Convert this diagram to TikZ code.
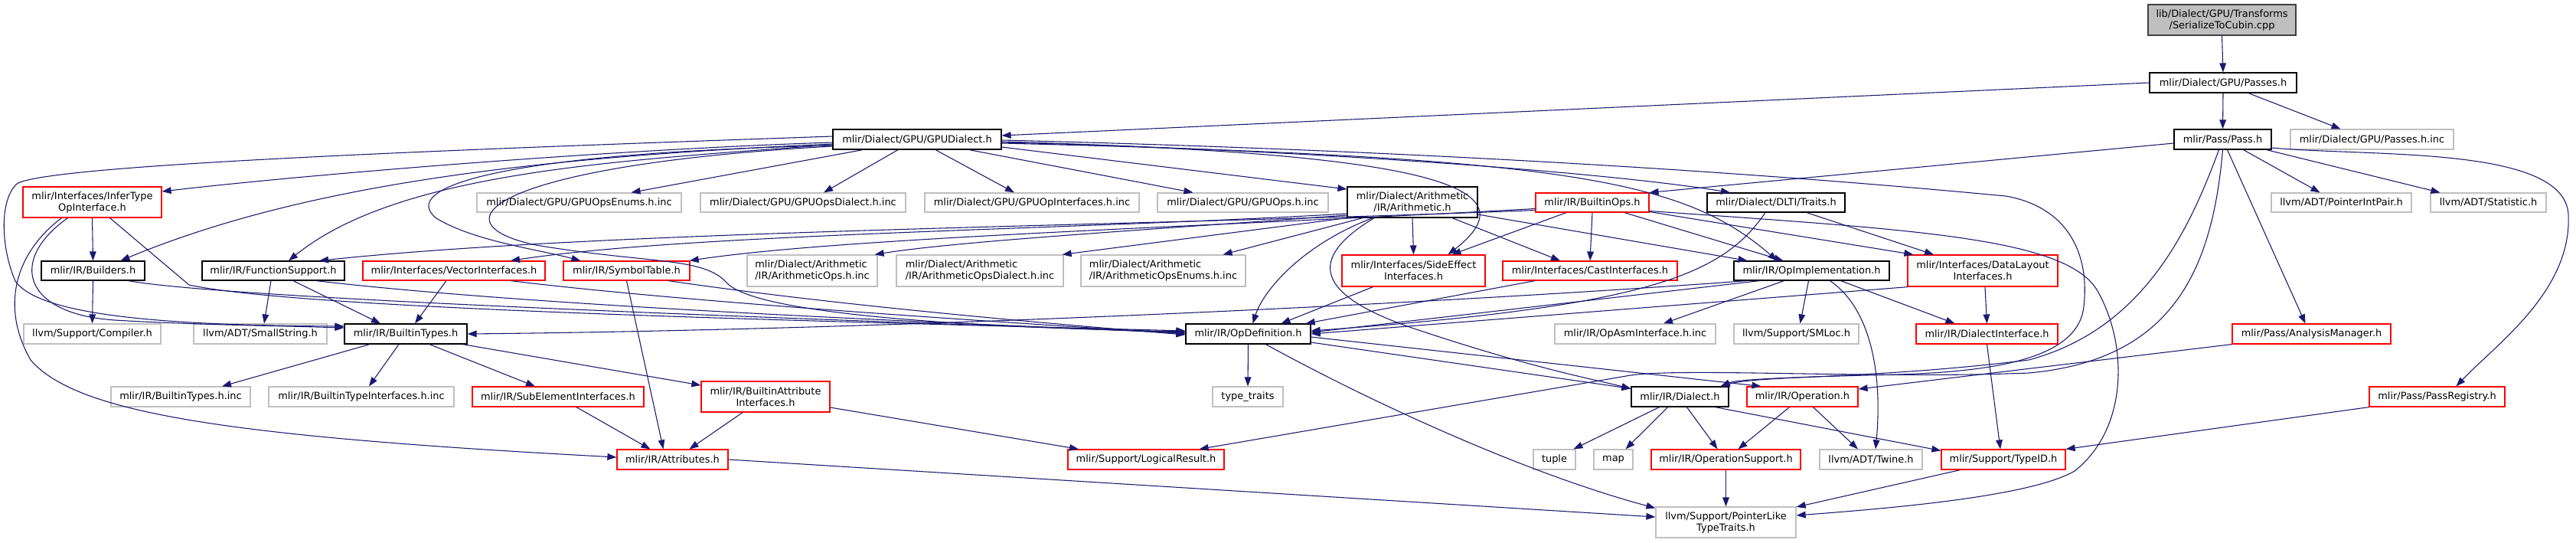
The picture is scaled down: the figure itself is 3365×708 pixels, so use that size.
\documentclass[tikz,border=0pt]{standalone}
\usepackage{fontspec}
\setmainfont{DejaVu Sans}
\usetikzlibrary{arrows.meta,calc}
\definecolor{edgeblue}{RGB}{25,25,112}
\definecolor{grayb}{RGB}{191,191,191}
\definecolor{topfill}{RGB}{191,191,191}
\definecolor{topdraw}{RGB}{64,64,64}
\newcommand{\nd}[7]{\node[#1, minimum width={(#4-#3)*0.75pt}, minimum height={(#6-#5)*0.75pt}] (#2) at ({(#3+#4)/2},{(#5+#6)/2}) {#7};}
\begin{document}
\begin{tikzpicture}[x=0.75pt,y=-0.75pt,
  nb/.style={rectangle, inner sep=0pt, line width=0.9pt, font=\fontsize{9.7}{11.25}\selectfont, align=center, text=black},
  blk/.style={nb, draw=black},
  rdn/.style={nb, draw=red},
  gry/.style={nb, draw=grayb},
  topn/.style={nb, draw=topdraw, fill=topfill},
  ed/.style={draw=edgeblue, line width=0.8pt, -{Triangle[length=9pt,width=6.5pt]}}]
\fill[white] (0,0) rectangle (3365,708);
\useasboundingbox (0,0) rectangle (3365,708);
% nodes
\nd{topn}{ser}{2806}{2999}{6}{46}{lib/Dialect/GPU/Transforms\\/SerializeToCubin.cpp}
\nd{blk}{passes}{2808}{3000}{95}{121}{mlir/Dialect/GPU/Passes.h}
\nd{blk}{gpud}{1088}{1308}{169}{195}{mlir/Dialect/GPU/GPUDialect.h}
\nd{blk}{pass}{2840}{2967}{169}{195}{mlir/Pass/Pass.h}
\nd{gry}{passesinc}{2992}{3205}{169}{195}{mlir/Dialect/GPU/Passes.h.inc}
\nd{rdn}{infer}{30}{211}{244}{284}{mlir/Interfaces/InferType\\OpInterface.h}
\nd{gry}{opsenums}{623}{890}{252}{277}{mlir/Dialect/GPU/GPUOpsEnums.h.inc}
\nd{gry}{opsdialect}{915}{1183}{252}{277}{mlir/Dialect/GPU/GPUOpsDialect.h.inc}
\nd{gry}{opinterfaces}{1208}{1488}{252}{277}{mlir/Dialect/GPU/GPUOpInterfaces.h.inc}
\nd{gry}{gpuops}{1512}{1735}{252}{277}{mlir/Dialect/GPU/GPUOps.h.inc}
\nd{blk}{arith}{1760}{1930}{244}{284}{mlir/Dialect/Arithmetic\\/IR/Arithmetic.h}
\nd{rdn}{builtinops}{2006}{2154}{252}{277}{mlir/IR/BuiltinOps.h}
\nd{blk}{traits}{2230}{2410}{252}{277}{mlir/Dialect/DLTI/Traits.h}
\nd{gry}{ptrintpair}{2967}{3150}{252}{277}{llvm/ADT/PointerIntPair.h}
\nd{gry}{statistic}{3175}{3326}{252}{277}{llvm/ADT/Statistic.h}
\nd{blk}{builders}{54}{189}{341}{366}{mlir/IR/Builders.h}
\nd{blk}{funcsupp}{264}{450}{341}{366}{mlir/IR/FunctionSupport.h}
\nd{rdn}{vector}{474}{712}{341}{366}{mlir/Interfaces/VectorInterfaces.h}
\nd{rdn}{symtab}{736}{901}{341}{366}{mlir/IR/SymbolTable.h}
\nd{gry,align=left}{arithops}{976}{1146}{333}{374}{mlir/Dialect/Arithmetic\\/IR/ArithmeticOps.h.inc}
\nd{gry,align=left}{arithdialect}{1171}{1389}{333}{374}{mlir/Dialect/Arithmetic\\/IR/ArithmeticOpsDialect.h.inc}
\nd{gry,align=left}{arithenums}{1412}{1627}{333}{374}{mlir/Dialect/Arithmetic\\/IR/ArithmeticOpsEnums.h.inc}
\nd{rdn}{sideeffect}{1753}{1940}{333}{374}{mlir/Interfaces/SideEffect\\Interfaces.h}
\nd{rdn}{cast}{1963}{2191}{341}{366}{mlir/Interfaces/CastInterfaces.h}
\nd{blk}{opimpl}{2265}{2468}{341}{366}{mlir/IR/OpImplementation.h}
\nd{rdn}{datalayout}{2492}{2688}{333}{374}{mlir/Interfaces/DataLayout\\Interfaces.h}
\nd{gry}{compiler}{31}{210}{423}{449}{llvm/Support/Compiler.h}
\nd{gry}{smallstring}{253}{427}{423}{449}{llvm/ADT/SmallString.h}
\nd{blk}{btypes}{450}{610}{423}{449}{mlir/IR/BuiltinTypes.h}
\nd{blk}{opdef}{1549}{1712}{423}{449}{mlir/IR/OpDefinition.h}
\nd{gry}{opasm}{2031}{2241}{423}{449}{mlir/IR/OpAsmInterface.h.inc}
\nd{gry}{smloc}{2265}{2428}{423}{449}{llvm/Support/SMLoc.h}
\nd{rdn}{dialectif}{2503}{2688}{423}{449}{mlir/IR/DialectInterface.h}
\nd{rdn}{analysis}{2916}{3123}{423}{449}{mlir/Pass/AnalysisManager.h}
\nd{gry}{btinc}{145}{327}{505}{531}{mlir/IR/BuiltinTypes.h.inc}
\nd{gry}{btiinc}{351}{593}{505}{531}{mlir/IR/BuiltinTypeInterfaces.h.inc}
\nd{rdn}{subelem}{617}{841}{505}{531}{mlir/IR/SubElementInterfaces.h}
\nd{rdn}{battr}{916}{1084}{498}{538}{mlir/IR/BuiltinAttribute\\Interfaces.h}
\nd{gry}{typetraits}{1584}{1676}{505}{531}{type\_traits}
\nd{blk}{dialect}{2131}{2258}{505}{531}{mlir/IR/Dialect.h}
\nd{rdn}{operation}{2282}{2427}{505}{531}{mlir/IR/Operation.h}
\nd{rdn}{passreg}{3095}{3272}{505}{531}{mlir/Pass/PassRegistry.h}
\nd{rdn}{attrs}{806}{951}{587}{613}{mlir/IR/Attributes.h}
\nd{rdn}{logres}{1395}{1599}{587}{613}{mlir/Support/LogicalResult.h}
\nd{gry}{tuple}{2003}{2058}{587}{613}{tuple}
\nd{gry}{map}{2082}{2133}{587}{613}{map}
\nd{rdn}{opsupp}{2157}{2352}{587}{613}{mlir/IR/OperationSupport.h}
\nd{gry}{twine}{2377}{2511}{587}{613}{llvm/ADT/Twine.h}
\nd{rdn}{typeid}{2536}{2698}{587}{613}{mlir/Support/TypeID.h}
\nd{gry}{ptrlike}{2163}{2346}{662}{702}{llvm/Support/PointerLike\\TypeTraits.h}
% edges: top
\draw[ed] (ser.south) -- (passes.north);
\draw[ed] (passes.west) -- ($(gpud.east)+(0,-5)$);
\draw[ed] (passes.south) -- (pass.north);
\draw[ed] ($(passes.south)+(33,0)$) -- ($(passesinc.north)+(-41,0)$);
% GPUDialect
\draw[ed] ($(gpud.south)+(-71,0)$) -- ($(opsenums.north)+(68,0)$);
\draw[ed] ($(gpud.south)+(-25,0)$) -- ($(opsdialect.north)+(27,0)$);
\draw[ed] ($(gpud.south)+(24,0)$) -- ($(opinterfaces.north)+(-23,0)$);
\draw[ed] ($(gpud.south)+(68,0)$) -- ($(gpuops.north)+(-65,0)$);
\draw[ed] ($(gpud.east)+(0,10)$) -- ($(arith.west)+(0,-17)$);
\draw[ed] ($(gpud.east)+(0,4)$) .. controls (1700,195) and (2100,225) .. ($(traits.north)+(-60,0)$);
\draw[ed] ($(gpud.east)+(0,5)$) .. controls (2050,205) and (2200,235) .. ($(opimpl.north)+(-45,0)$);
\draw[ed] ($(gpud.east)+(0,3)$) .. controls (1850,200) and (2010,240) .. ($(sideeffect.north)+(45,0)$);
\draw[ed] ($(gpud.east)+(0,1)$) .. controls (2000,200) and (2450,240) .. (2620,256) .. controls (2700,270) and (2730,330) .. (2722,400) .. controls (2715,470) and (2600,485) .. (2480,489) .. controls (2350,492) and (2270,495) .. ($(dialect.north east)+(-11,0)$);
\draw[ed] ($(gpud.west)+(0,4)$) .. controls (800,195) and (400,228) .. ($(infer.east)+(0,-14)$);
\draw[ed] ($(gpud.west)+(0,-4)$) .. controls (600,195) and (60,215) .. (22,240) .. controls (0,260) and (0,320) .. (20,367) .. controls (50,410) and (200,425) .. ($(btypes.west)+(0,-10)$);
\draw[ed] ($(gpud.west)+(0,6)$) .. controls (700,205) and (400,240) .. ($(builders.north)+(36,0)$);
\draw[ed] ($(gpud.west)+(0,7)$) .. controls (800,210) and (520,225) .. ($(funcsupp.north)+(20,0)$);
\draw[ed] ($(gpud.west)+(0,8)$) .. controls (650,200) and (520,245) .. (570,285) .. controls (620,315) and (700,325) .. ($(symtab.north)+(-60,0)$);
\draw[ed] ($(gpud.west)+(0,9)$) .. controls (650,215) and (560,290) .. (700,320) .. controls (850,345) and (920,335) .. (950,370) .. controls (1000,420) and (1400,430) .. ($(opdef.west)+(0,-3)$);
% Arithmetic
\draw[ed] ($(arith.west)+(0,15)$) .. controls (1400,300) and (900,305) .. ($(vector.north)+(74,0)$);
\draw[ed] ($(arith.west)+(0,17)$) .. controls (1500,300) and (1250,315) .. ($(arithops.north east)+(-4,0)$);
\draw[ed] (arith.south west) -- ($(arithdialect.north east)+(-2,0)$);
\draw[ed] ($(arith.south)+(-65,0)$) -- ($(arithenums.north)+(78,0)$);
\draw[ed] ($(arith.south)+(-52,0)$) .. controls (1700,320) and (1650,380) .. ($(opdef.north)+(6,0)$);
\draw[ed] ($(arith.south)+(-50,0)$) .. controls (1720,330) and (1700,380) .. (1850,430) .. controls (2000,480) and (2080,495) .. ($(dialect.north west)+(0,3)$);
\draw[ed] (arith.south) -- (sideeffect.north);
\draw[ed] ($(arith.south)+(52,0)$) -- ($(cast.north)+(-39,0)$);
\draw[ed] ($(arith.east)+(0,16)$) -- ($(opimpl.north)+(-84,0)$);
% BuiltinOps
\draw[ed] ($(builtinops.west)+(0,10)$) .. controls (1500,295) and (800,300) .. ($(funcsupp.north)+(60,0)$);
\draw[ed] ($(builtinops.west)+(0,8)$) .. controls (1600,295) and (1100,310) .. ($(symtab.north east)+(-1,0)$);
\draw[ed] ($(builtinops.south)+(-34,0)$) -- ($(sideeffect.north)+(50,0)$);
\draw[ed] (builtinops.south) -- (cast.north);
\draw[ed] ($(builtinops.south)+(42,0)$) -- ($(opimpl.north)+(-37,0)$);
\draw[ed] ($(builtinops.east)+(0,12)$) -- ($(datalayout.north west)+(8,0)$);
\draw[ed] ($(builtinops.east)+(0,11)$) .. controls (2500,300) and (2700,310) .. (2740,380) .. controls (2780,450) and (2780,560) .. (2710,615) .. controls (2650,650) and (2450,665) .. ($(ptrlike.east)+(0,-9)$);
% Pass
\draw[ed] ($(pass.west)+(0,5)$) -- (builtinops.north east);
\draw[ed] ($(pass.south)+(-5,0)$) .. controls (2860,300) and (2800,430) .. (2650,470) .. controls (2450,495) and (2300,490) .. ($(dialect.north east)+(-11,0)$);
\draw[ed] (pass.south) .. controls (2890,350) and (2840,470) .. (2650,487) .. controls (2450,495) and (2200,480) .. (2130,490) -- ($(logres.north east)+(-33,0)$);
\draw[ed] ($(pass.south)+(6,0)$) -- ($(analysis.north)+(-8,0)$);
\draw[ed] ($(pass.south)+(27,0)$) -- ($(ptrintpair.north)+(-28,0)$);
\draw[ed] ($(pass.south east)+(-7,0)$) -- ($(statistic.north)+(-63,0)$);
\draw[ed] ($(pass.east)+(0,11)$) .. controls (3100,205) and (3350,190) .. (3355,280) .. controls (3360,380) and (3260,450) .. ($(passreg.north)+(25,0)$);
% Traits
\draw[ed] ($(traits.south)+(-14,0)$) .. controls (2250,360) and (2150,400) .. ($(opdef.east)+(0,-4)$);
\draw[ed] ($(traits.south)+(40,0)$) -- ($(datalayout.north)+(-64,0)$);
% InferType
\draw[ed] (infer.south) -- (builders.north);
\draw[ed] ($(infer.south)+(-32,0)$) .. controls (10,340) and (30,410) .. (150,418) .. controls (250,424) and (350,425) .. ($(btypes.west)+(0,-8)$);
\draw[ed] ($(infer.south)+(-40,0)$) .. controls (20,330) and (0,400) .. (40,470) .. controls (100,540) and (300,570) .. ($(attrs.west)+(0,-3)$);
\draw[ed] ($(infer.south)+(23,0)$) -- (247,372) .. controls (400,405) and (1100,420) .. ($(opdef.west)+(0,-4)$);
% Builders, FunctionSupport, Vector, SymbolTable
\draw[ed] (builders.south) -- (compiler.north);
\draw[ed] ($(builders.south)+(46,0)$) .. controls (300,390) and (1000,415) .. ($(opdef.west)+(0,-2)$);
\draw[ed] ($(funcsupp.south)+(-3,0)$) -- ($(smallstring.north)+(5,0)$);
\draw[ed] ($(funcsupp.south)+(26,0)$) -- ($(btypes.north)+(-33,0)$);
\draw[ed] ($(funcsupp.south)+(56,0)$) .. controls (700,400) and (1200,420) .. ($(opdef.west)+(0,-1)$);
\draw[ed] ($(vector.south)+(-10,0)$) -- ($(btypes.north)+(12,0)$);
\draw[ed] ($(vector.south)+(74,0)$) .. controls (900,395) and (1300,420) .. (opdef.west);
\draw[ed] (symtab.south) -- ($(attrs.north)+(-12,0)$);
\draw[ed] ($(symtab.south)+(55,0)$) .. controls (1100,400) and (1400,425) .. ($(opdef.west)+(0,1)$);
% SideEffect, Cast, OpImplementation, DataLayout
\draw[ed] ($(sideeffect.south)+(-53,0)$) -- ($(opdef.north)+(43,0)$);
\draw[ed] ($(cast.south)+(-72,0)$) -- ($(opdef.north east)+(-7,0)$);
\draw[ed] ($(opimpl.south)+(-68,0)$) -- ($(opdef.east)+(0,-2)$);
\draw[ed] ($(opimpl.south west)+(17,0)$) .. controls (1900,395) and (1200,430) .. (btypes.east);
\draw[ed] ($(opimpl.south)+(-36,0)$) -- ($(opasm.north)+(37,0)$);
\draw[ed] ($(opimpl.south)+(-4,0)$) -- ($(smloc.north)+(5,0)$);
\draw[ed] ($(opimpl.south)+(24,0)$) .. controls (2440,400) and (2460,480) .. ($(twine.north)+(6,0)$);
\draw[ed] ($(opimpl.south)+(38,0)$) -- ($(dialectif.north)+(-42,0)$);
\draw[ed] ($(datalayout.south)+(3,0)$) -- (dialectif.north);
\draw[ed] ($(datalayout.south west)+(1,0)$) -- (opdef.east);
\draw[ed] (dialectif.south) -- ($(typeid.north)+(-4,0)$);
\draw[ed] (analysis.south west) -- ($(operation.east)+(0,-10)$);
\draw[ed] (passreg.south west) -- (typeid.north east);
% BuiltinTypes and below
\draw[ed] ($(btypes.south)+(-47,0)$) -- ($(btinc.north)+(54,0)$);
\draw[ed] ($(btypes.south)+(-9,0)$) -- ($(btiinc.north)+(10,0)$);
\draw[ed] ($(btypes.south)+(31,0)$) -- ($(subelem.north)+(-30,0)$);
\draw[ed] ($(btypes.south east)+(-6,0)$) -- ($(battr.west)+(0,-15)$);
\draw[ed] ($(subelem.south)+(24,0)$) -- ($(attrs.north west)+(44,0)$);
\draw[ed] ($(battr.south)+(-30,0)$) -- ($(attrs.north)+(22,0)$);
\draw[ed] ($(battr.east)+(0,14)$) -- ($(logres.north)+(-88,0)$);
\draw[ed] (attrs.east) -- ($(ptrlike.west)+(0,-7)$);
% OpDefinition
\draw[ed] (opdef.south) -- (typetraits.north);
\draw[ed] ($(opdef.east)+(0,11)$) -- ($(dialect.north west)+(0,3)$);
\draw[ed] ($(opdef.east)+(0,4)$) -- ($(operation.north)+(-54,0)$);
\draw[ed] ($(opdef.south)+(23,0)$) .. controls (1800,530) and (2000,620) .. ($(ptrlike.north west)+(0,2)$);
% Dialect, Operation
\draw[ed] ($(dialect.south)+(-27,0)$) -- ($(tuple.north)+(25,0)$);
\draw[ed] ($(dialect.south)+(-16,0)$) -- ($(map.north)+(16,0)$);
\draw[ed] ($(dialect.south)+(9,0)$) -- ($(opsupp.north)+(-11,0)$);
\draw[ed] ($(dialect.south east)+(-18,0)$) -- ($(typeid.north west)+(0,2)$);
\draw[ed] ($(operation.south)+(-17,0)$) -- ($(opsupp.north)+(16,0)$);
\draw[ed] ($(operation.south)+(14,0)$) -- ($(twine.north)+(-17,0)$);
\draw[ed] (opsupp.south) -- (ptrlike.north);
\draw[ed] ($(typeid.south west)+(25,0)$) -- ($(ptrlike.east)+(0,-20)$);
\end{tikzpicture}
\end{document}
